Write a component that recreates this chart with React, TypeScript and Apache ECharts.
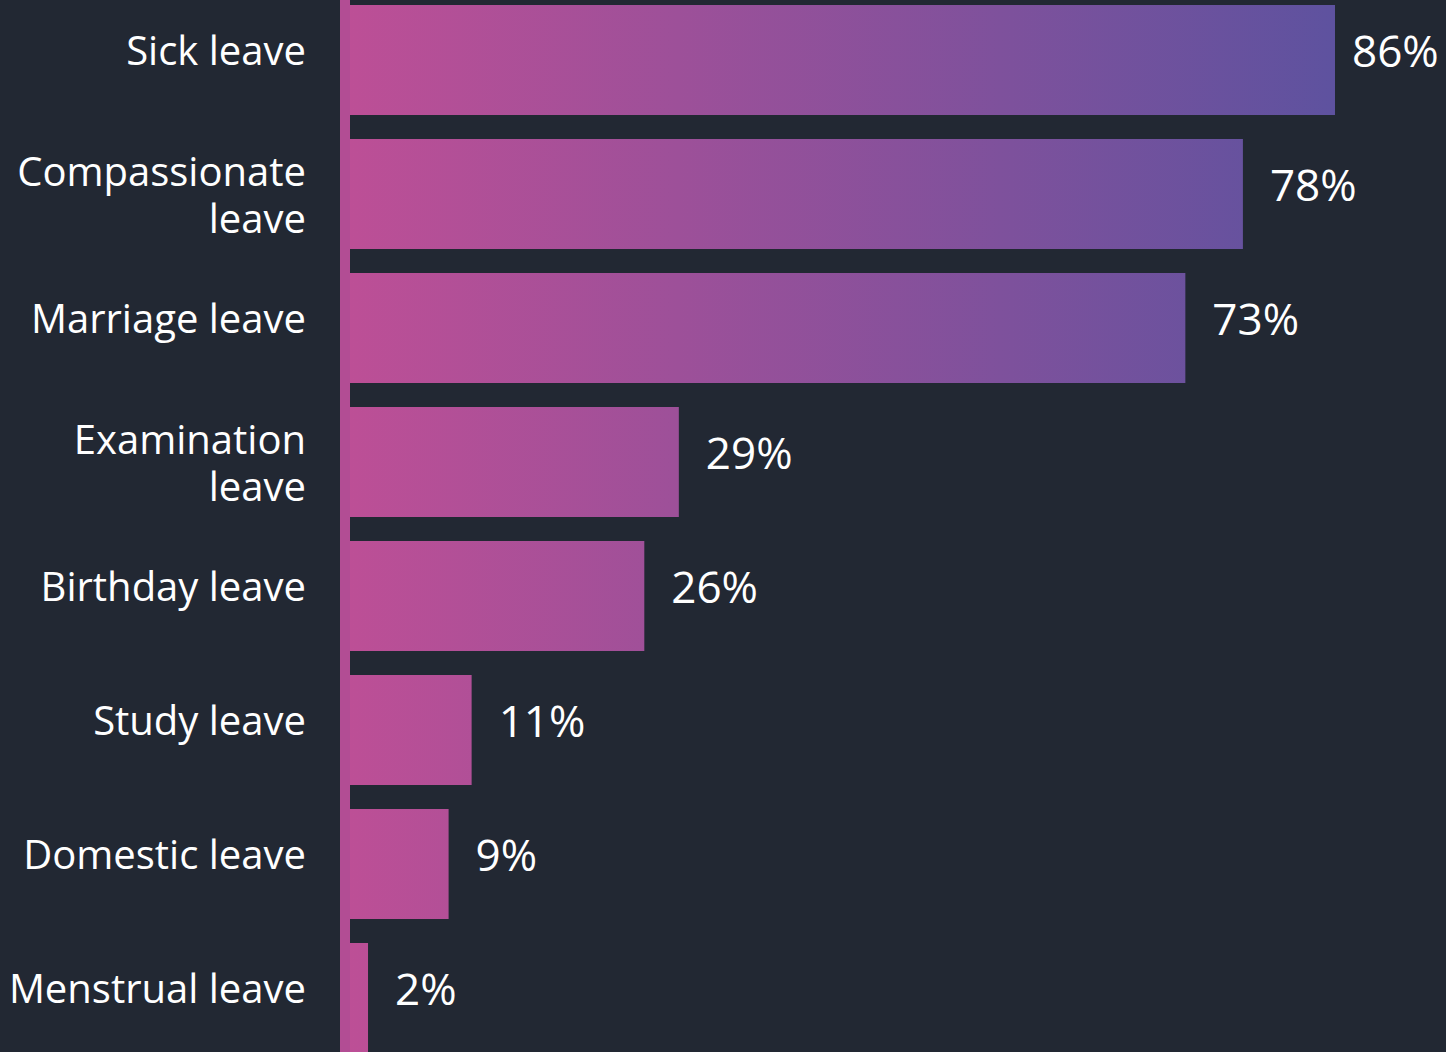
import React, { useEffect, useRef } from "react";
import * as echarts from "echarts";

const categories = [
  "Sick leave",
  "Compassionate\nleave",
  "Marriage leave",
  "Examination\nleave",
  "Birthday leave",
  "Study leave",
  "Domestic leave",
  "Menstrual leave",
];
const values = [86, 78, 73, 29, 26, 11, 9, 2];

const BG = "#222833";
const FONT = "'Open Sans', 'Noto Sans', sans-serif";

export default function App() {
  const ref = useRef<HTMLDivElement>(null);
  useEffect(() => {
    if (!ref.current) return;
    const chart = echarts.init(ref.current, undefined, { renderer: "svg" });
    const grad = new echarts.graphic.LinearGradient(
      345,
      0,
      1335,
      0,
      [
        { offset: 0, color: "#bd4f96" },
        { offset: 1, color: "#5e529f" },
      ],
      true
    );
    chart.setOption({
      animation: false,
      backgroundColor: BG,
      grid: {
        left: 345,
        right: 7.4,
        top: 0,
        bottom: 0,
        containLabel: false,
        outerBoundsMode: "none",
      },
      xAxis: {
        type: "value",
        min: 0,
        max: 95,
        show: false,
      },
      yAxis: {
        type: "category",
        inverse: true,
        data: categories,
        offset: 1,
        z: 3,
        axisTick: { show: false },
        axisLine: { show: true, lineStyle: { color: "#b24d94", width: 10 } },
        splitLine: { show: false },
        axisLabel: {
          margin: 38,
          color: "#ffffff",
          fontFamily: FONT,
          fontSize: 40,
          align: "right",
          formatter: (v: string) =>
            v.includes("\n")
              ? v
                  .split("\n")
                  .map((s) => `{m|${s}}`)
                  .join("\n")
              : `{s|${v}}`,
          rich: {
            s: {
              color: "#ffffff",
              fontFamily: FONT,
              fontSize: 40,
              padding: [0, 0, 22, 0],
            },
            m: {
              color: "#ffffff",
              fontFamily: FONT,
              fontSize: 40,
              lineHeight: 47,
            },
          },
        },
      },
      series: [
        {
          type: "bar",
          data: values.map((v, i) =>
            i === 0 ? { value: v, label: { distance: 17 } } : v
          ),
          barWidth: 110,
          itemStyle: { color: grad },
          label: {
            show: true,
            position: "right",
            distance: 27,
            offset: [0, -10],
            color: "#ffffff",
            fontFamily: FONT,
            fontSize: 44,
            formatter: "{c}%",
          },
        },
      ],
    });
    return () => chart.dispose();
  }, []);
  return (
    <div
      style={{
        position: "absolute",
        left: 0,
        top: 0,
        width: 1446,
        height: 1052,
        overflow: "hidden",
        background: BG,
      }}
    >
      <div
        ref={ref}
        style={{
          position: "absolute",
          left: 0,
          top: -7,
          width: 1446,
          height: 1072,
        }}
      />
    </div>
  );
}
